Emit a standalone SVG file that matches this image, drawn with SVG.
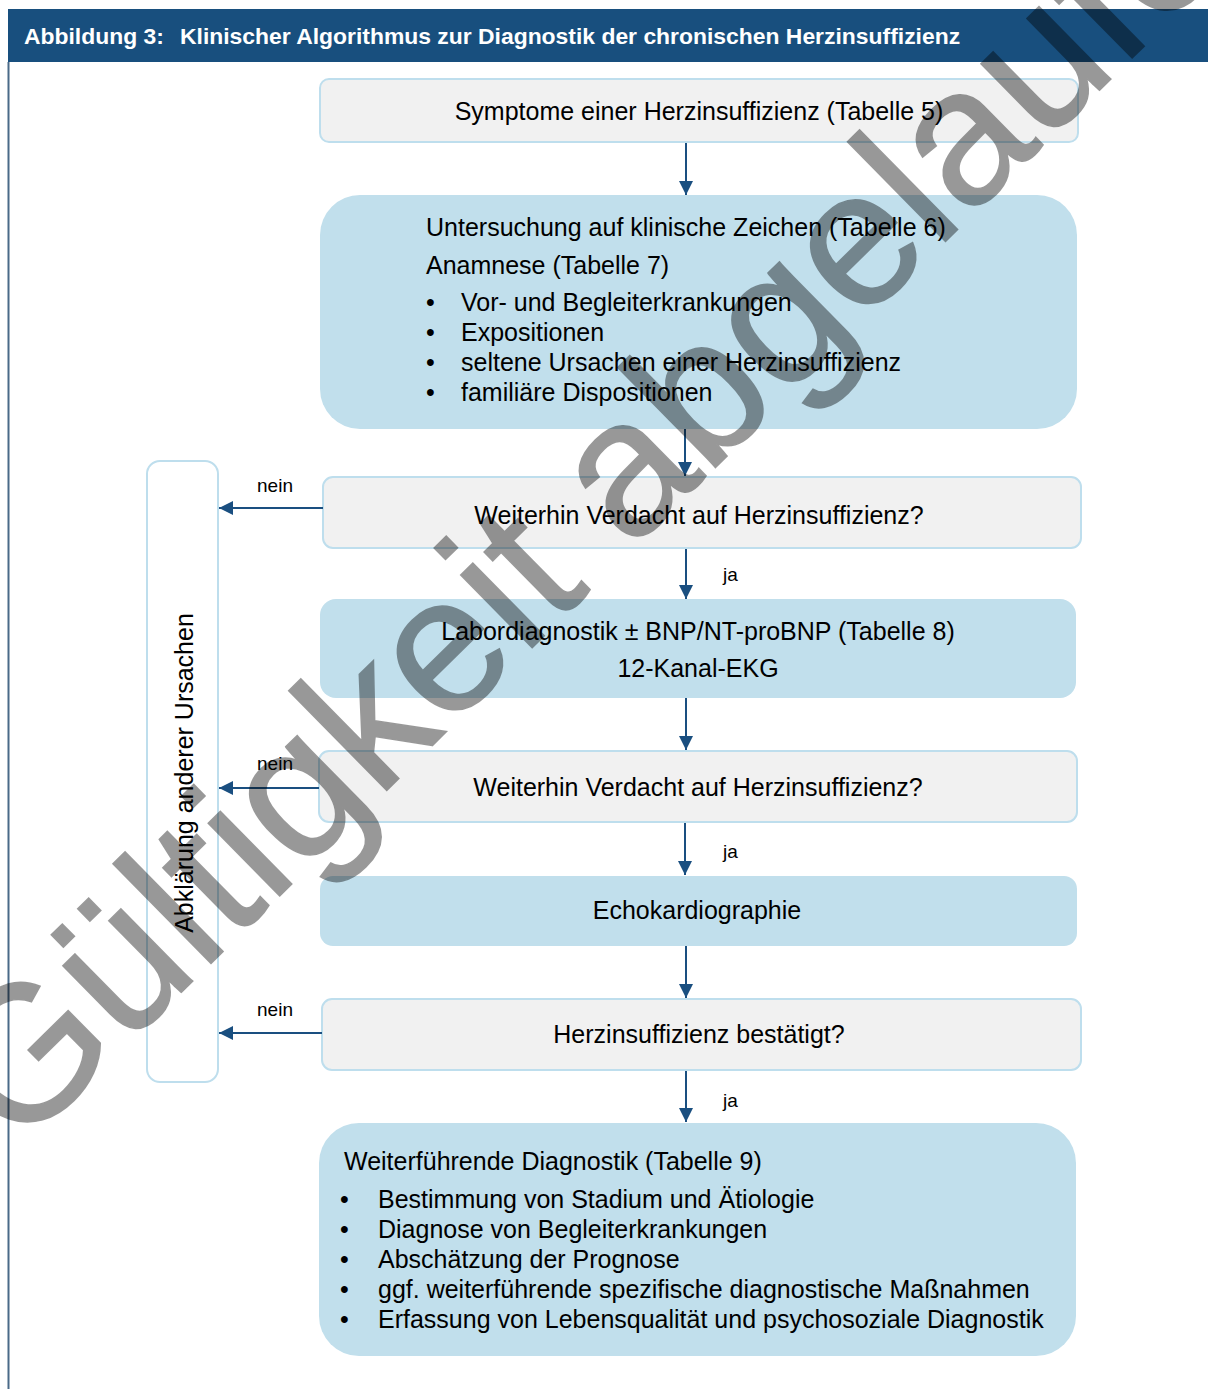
<svg xmlns="http://www.w3.org/2000/svg" width="1208" height="1389" viewBox="0 0 1208 1389">
<defs>
<style>
.t{font-family:"Liberation Sans",Arial,sans-serif;font-size:25px;fill:#000}
.c{text-anchor:middle}
.lbl{font-family:"Liberation Sans",Arial,sans-serif;font-size:19px;fill:#000}
.grey{fill:#f1f1f1;stroke:#bedeed;stroke-width:2}
.blue{fill:#c1dfec}
.con{stroke:#1a4f80;stroke-width:2;fill:none}
.hd{font-family:"Liberation Sans",Arial,sans-serif;font-size:22.9px;font-weight:bold;fill:#fff}
.wm{font-family:"Liberation Sans",Arial,sans-serif;font-size:193px;fill:#000;stroke:#000;stroke-width:1.5}
</style>
<marker id="ah" markerUnits="userSpaceOnUse" markerWidth="14" markerHeight="14" refX="14" refY="7" orient="auto">
<path d="M0,0 L14,7 L0,14 z" fill="#1a4f80"/>
</marker>
</defs>
<rect x="0" y="0" width="1208" height="1389" fill="#fff"/>
<g id="header">
<rect x="8" y="9" width="1200" height="53" fill="#184f7e"/>
<line x1="8.5" y1="62" x2="8.5" y2="1389" stroke="#4a6a88" stroke-width="2"/>
<text class="hd" x="24" y="44">Abbildung 3:<tspan x="180">Klinischer Algorithmus zur Diagnostik der chronischen Herzinsuffizienz</tspan></text>
</g>
<g id="n1">
<rect class="grey" x="320" y="79" width="758" height="63" rx="9"/>
<text class="t c" x="699" y="120">Symptome einer Herzinsuffizienz (Tabelle 5)</text>
</g>
<g id="n2">
<rect class="blue" x="320" y="195" width="757" height="234" rx="40"/>
<text class="t" x="426" y="236">Untersuchung auf klinische Zeichen (Tabelle 6)</text>
<text class="t" x="426" y="274">Anamnese (Tabelle 7)</text>
<text class="t" x="426" y="311">•<tspan x="461">Vor- und Begleiterkrankungen</tspan></text>
<text class="t" x="426" y="341">•<tspan x="461">Expositionen</tspan></text>
<text class="t" x="426" y="371">•<tspan x="461">seltene Ursachen einer Herzinsuffizienz</tspan></text>
<text class="t" x="426" y="401">•<tspan x="461">familiäre Dispositionen</tspan></text>
</g>
<g id="n3">
<rect class="grey" x="323" y="477" width="758" height="71" rx="10"/>
<text class="t c" x="699" y="524">Weiterhin Verdacht auf Herzinsuffizienz?</text>
</g>
<g id="n4">
<rect class="blue" x="320" y="599" width="756" height="99" rx="16"/>
<text class="t c" x="698" y="640">Labordiagnostik ± BNP/NT-proBNP (Tabelle 8)</text>
<text class="t c" x="698" y="677">12-Kanal-EKG</text>
</g>
<g id="n5">
<rect class="grey" x="319" y="751" width="758" height="71" rx="10"/>
<text class="t c" x="698" y="796">Weiterhin Verdacht auf Herzinsuffizienz?</text>
</g>
<g id="n6">
<rect class="blue" x="320" y="876" width="757" height="70" rx="13"/>
<text class="t c" x="697" y="919">Echokardiographie</text>
</g>
<g id="n7">
<rect class="grey" x="322" y="999" width="759" height="71" rx="10"/>
<text class="t c" x="699" y="1043">Herzinsuffizienz bestätigt?</text>
</g>
<g id="n8">
<rect class="blue" x="319" y="1123" width="757" height="233" rx="40"/>
<text class="t" x="344" y="1170">Weiterführende Diagnostik (Tabelle 9)</text>
<text class="t" x="340" y="1208">•<tspan x="378">Bestimmung von Stadium und Ätiologie</tspan></text>
<text class="t" x="340" y="1238">•<tspan x="378">Diagnose von Begleiterkrankungen</tspan></text>
<text class="t" x="340" y="1268">•<tspan x="378">Abschätzung der Prognose</tspan></text>
<text class="t" x="340" y="1298">•<tspan x="378">ggf. weiterführende spezifische diagnostische Maßnahmen</tspan></text>
<text class="t" x="340" y="1328">•<tspan x="378">Erfassung von Lebensqualität und psychosoziale Diagnostik</tspan></text>
</g>
<g id="n9">
<rect x="147" y="461" width="71" height="621" rx="13" fill="#fff" stroke="#bedeed" stroke-width="2"/>
<text class="t c" transform="translate(193,773) rotate(-90)" x="0" y="0">Abklärung anderer Ursachen</text>
</g>
<g id="connectors">
<line class="con" x1="686" y1="143" x2="686" y2="195" marker-end="url(#ah)"/>
<line class="con" x1="685" y1="429" x2="685" y2="476" marker-end="url(#ah)"/>
<line class="con" x1="686" y1="549" x2="686" y2="599" marker-end="url(#ah)"/>
<line class="con" x1="686" y1="698" x2="686" y2="750" marker-end="url(#ah)"/>
<line class="con" x1="685" y1="823" x2="685" y2="875" marker-end="url(#ah)"/>
<line class="con" x1="686" y1="946" x2="686" y2="998" marker-end="url(#ah)"/>
<line class="con" x1="686" y1="1071" x2="686" y2="1122" marker-end="url(#ah)"/>
<line class="con" x1="323" y1="508" x2="219" y2="508" marker-end="url(#ah)"/>
<line class="con" x1="319" y1="788" x2="219" y2="788" marker-end="url(#ah)"/>
<line class="con" x1="322" y1="1033" x2="219" y2="1033" marker-end="url(#ah)"/>
<text class="lbl" x="723" y="581">ja</text>
<text class="lbl" x="723" y="858">ja</text>
<text class="lbl" x="723" y="1107">ja</text>
<text class="lbl c" x="275" y="492">nein</text>
<text class="lbl c" x="275" y="770">nein</text>
<text class="lbl c" x="275" y="1016">nein</text>
</g>
<g id="watermark" opacity="0.4">
<text class="wm" transform="translate(18,1153) rotate(-44.5)" x="0" y="0">Gültigkeit abgelaufen</text>
</g>
</svg>
